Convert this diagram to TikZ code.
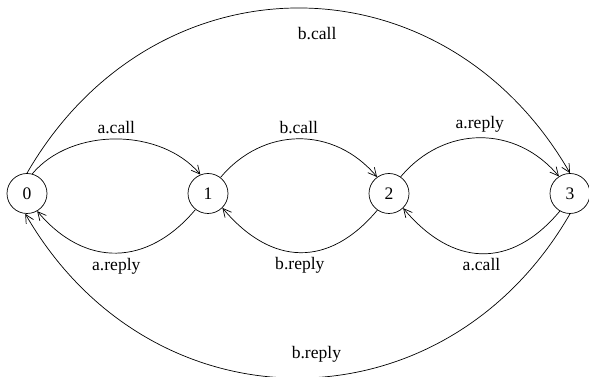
\documentclass[tikz,border=0pt]{standalone}
\usepackage{fontspec}
\setmainfont{Liberation Serif}
\usetikzlibrary{arrows.meta}
\def\statesep{4.525cm}
\tikzstyle{state node}=[circle,draw,line width=0.5pt,minimum size=1cm,inner sep=0pt]
\tikzstyle{trans}=[->,line width=0.5pt]
\tikzstyle{lbl}=[font=\fontsize{12.5}{14}\selectfont]

\begin{document}
\begin{tikzpicture}[>={Straight Barb[length=6pt,width=6pt]}, every node/.style={lbl}]
\useasboundingbox (-0.675,-4.5875) rectangle (14.05,4.8375);

% Draw the states
\foreach \name in {0,...,3}
\node[state node] (s-\name) at (\name*\statesep,0) {\name};

% Transitions between neighbours, upper side
\draw[trans] (s-0.75) to[out=50,in=130,looseness=0.93] node[above] {a.call} (s-1.112);
\draw[trans] (s-1.52) to[out=50,in=130,looseness=1.09] node[above] {b.call} (s-2.126);
\draw[trans] (s-2.55) to[out=50,in=130,looseness=1.09] node[above] {a.reply} (s-3.123);

% Transitions between neighbours, lower side
\draw[trans] (s-1.232) to[out=230,in=310,looseness=1.2] node[below] {a.reply} (s-0.300);
\draw[trans] (s-2.235) to[out=230,in=310,looseness=1.25] node[below] {b.reply} (s-1.315);
\draw[trans] (s-3.240) to[out=230,in=310,looseness=1.25] node[below] {a.call} (s-2.314);

% The long way round
\draw[trans] (s-0.90) to[out=60,in=120,looseness=1.2] node[pos=0.53,below=10pt] {b.call} (s-3.90);
\draw[trans] (s-3.270) to[out=240,in=300,looseness=1.19] node[pos=0.47,above=7pt] {b.reply} (s-0.265);
\end{tikzpicture}
\end{document}
